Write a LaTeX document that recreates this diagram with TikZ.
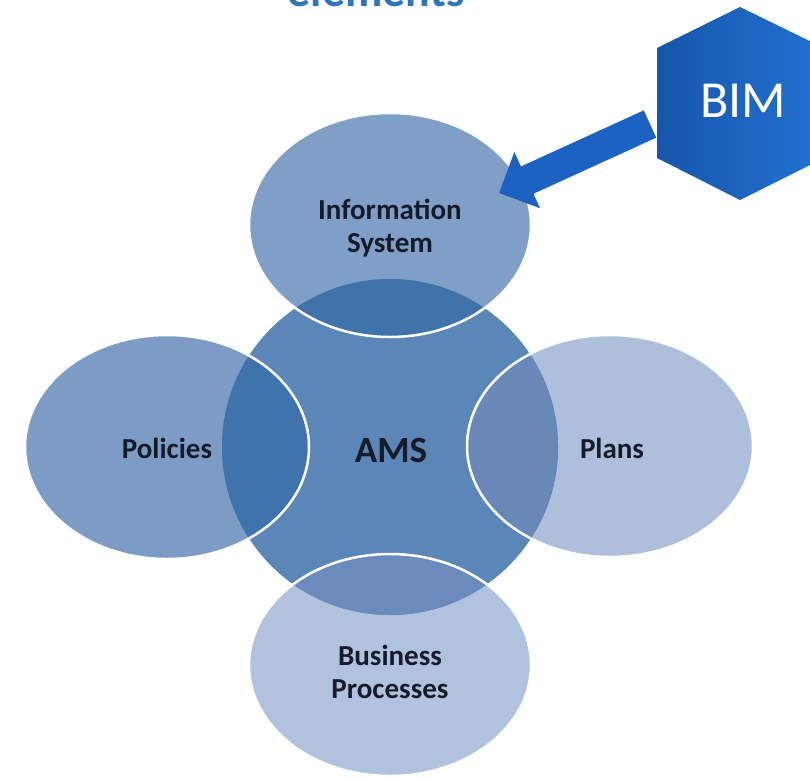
\documentclass[tikz,border=0pt]{standalone}
\usepackage{fontspec}
\setmainfont{Carlito}
\usetikzlibrary{arrows.meta,shapes.geometric}
\definecolor{titleblue}{RGB}{47,117,186}
\definecolor{isfill}{RGB}{128,159,199}
\definecolor{polfill}{RGB}{124,156,197}
\definecolor{planfill}{RGB}{173,191,219}
\definecolor{bpfill}{RGB}{176,194,221}
\definecolor{amsfill}{RGB}{90,135,184}
\definecolor{isover}{RGB}{63,115,170}
\definecolor{polover}{RGB}{62,116,171}
\definecolor{planover}{RGB}{104,137,184}
\definecolor{bpover}{RGB}{106,139,187}
\definecolor{txt}{RGB}{22,27,42}
\definecolor{hexleft}{RGB}{22,86,172}
\definecolor{hexright}{RGB}{34,114,210}
\definecolor{arrowblue}{RGB}{27,98,194}
\begin{document}
\begin{tikzpicture}[x=1pt,y=-1pt,
  lbl/.style={font=\fontsize{29}{33}\selectfont\bfseries, text=txt, align=center, inner sep=0pt},
  oval/.style={ellipse, inner sep=0pt, draw=none},
  rim/.style={draw=white, line width=2.5pt}]
\useasboundingbox (0,0) rectangle (810,779);
% title (cut off at top)
\node[font=\fontsize{46}{50}\selectfont\bfseries, text=titleblue, anchor=base, inner sep=0pt] (title) at (376,6) {elements};
% outer ellipses
\node[oval, fill=isfill, minimum width=282pt, minimum height=224pt] (info) at (390,225) {};
\node[oval, fill=polfill, minimum width=284pt, minimum height=224pt] (pol) at (167,447) {};
\node[oval, fill=planfill, minimum width=286pt, minimum height=222pt] (plan) at (610,446) {};
\node[oval, fill=bpfill, minimum width=282pt, minimum height=222pt] (bp) at (390,665) {};
% central circle
\node[circle, fill=amsfill, minimum size=336pt, inner sep=0pt] (ams) at (390,447) {};
% overlaps
\begin{scope}
  \clip (ams.center) circle (168pt);
  \fill[isover] (info.center) ellipse (141pt and 112pt);
  \fill[polover] (pol.center) ellipse (142pt and 112pt);
  \fill[planover] (plan.center) ellipse (143pt and 111pt);
  \fill[bpover] (bp.center) ellipse (141pt and 111pt);
\end{scope}
% white rims
\draw[rim] (info.center) ellipse (141pt and 112pt);
\draw[rim] (pol.center) ellipse (142pt and 112pt);
\draw[rim] (plan.center) ellipse (143pt and 111pt);
\draw[rim] (bp.center) ellipse (141pt and 111pt);
% labels
\node[lbl] (infot) at (390,228) {Information\\System};
\node[lbl] (polt) at (167,448) {Policies};
\node[lbl] (plant) at (612,448) {Plans};
\node[lbl] (bpt) at (390,672) {Business\\Processes};
\node[lbl, font=\fontsize{37}{40}\selectfont\bfseries] (amst) at (391,450) {AMS};
% BIM hexagon
\shade[left color=hexleft, right color=hexright]
  (740,7) -- (824,48) -- (824,158) -- (740,200) -- (657,158) -- (657,48) -- cycle;
\node[font=\fontsize{52}{56}\selectfont, text=white, inner sep=0pt] (bim) at (743,101) {BIM};
% arrow
\coordinate (arrtail) at (650,124);
\coordinate (arrtip) at (499,193);
\draw[arrowblue, line width=30pt, -{Triangle[width=60pt,length=31pt]}] (arrtail) -- (arrtip);
\end{tikzpicture}
\end{document}
